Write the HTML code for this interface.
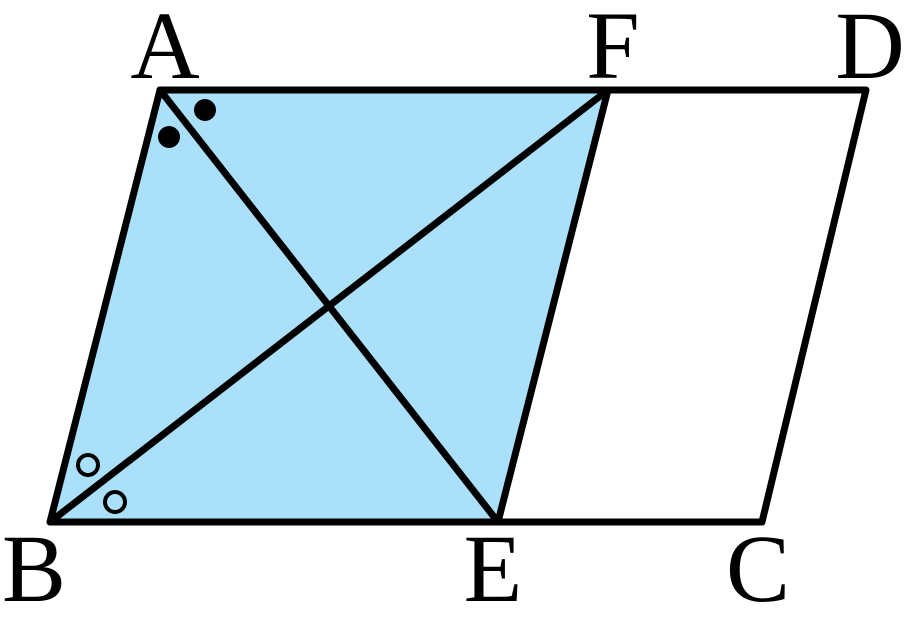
<!DOCTYPE html>
<html><head><style>html,body{margin:0;padding:0;background:#fff;}
.lbl{font-family:"Liberation Serif","DejaVu Serif",serif;font-size:96px;}
</style></head>
<body>
<svg width="909" height="629" viewBox="0 0 909 629" xmlns="http://www.w3.org/2000/svg">
<polygon points="160,90 608,90 498,522 50,522" fill="#abe0fa"/>
<g stroke="#000" stroke-width="7" stroke-linejoin="round" stroke-linecap="round" fill="none">
<polygon points="160,90 866,90 762,522 50,522"/>
<line x1="608" y1="90" x2="498" y2="522"/>
<line x1="160" y1="90" x2="498" y2="522"/>
<line x1="608" y1="90" x2="50" y2="522"/>
</g>
<circle cx="205" cy="110" r="11" fill="#000"/>
<circle cx="169" cy="137" r="11" fill="#000"/>
<circle cx="88" cy="465" r="10" fill="none" stroke="#000" stroke-width="4"/>
<circle cx="115" cy="502" r="10" fill="none" stroke="#000" stroke-width="4"/>
<g class="lbl" style="font-family:'Liberation Serif','DejaVu Serif',serif" text-anchor="middle" fill="#000">
<text x="165" y="78">A</text>
<text x="613" y="78">F</text>
<text x="870" y="78">D</text>
<text x="34" y="601">B</text>
<text x="493" y="601">E</text>
<text x="758" y="601">C</text>
</g>
</svg>
</body></html>
